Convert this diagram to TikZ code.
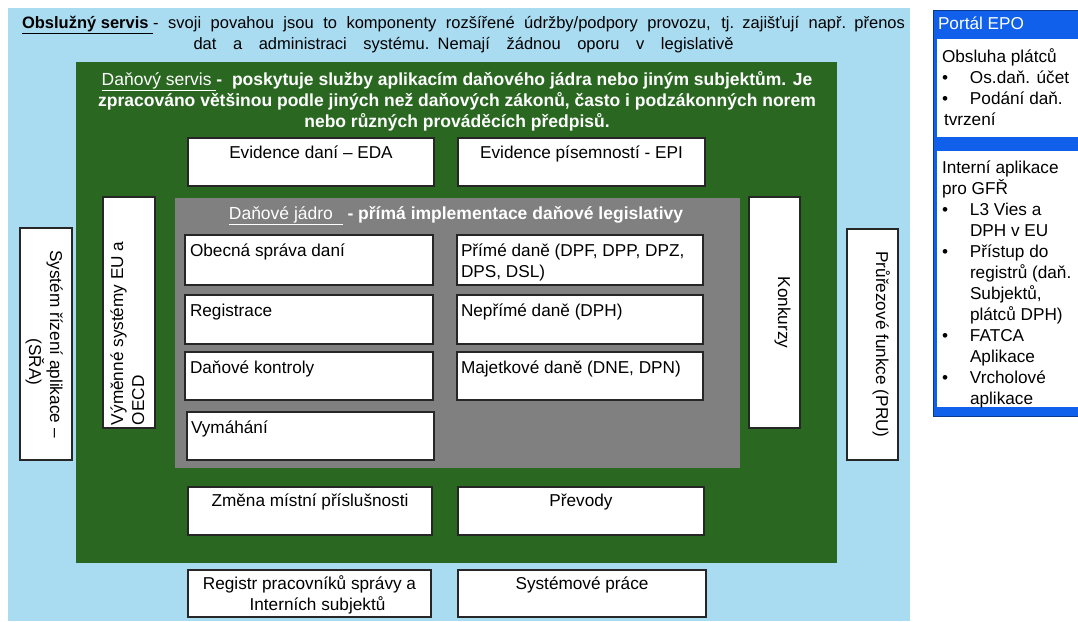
\documentclass[tikz,border=0pt]{standalone}
\usepackage{fontspec}
\setmainfont{Liberation Sans}
\definecolor{outerbg}{RGB}{170,220,241}
\definecolor{servisgreen}{RGB}{42,104,34}
\definecolor{coregray}{RGB}{128,128,128}
\definecolor{portalblue}{RGB}{16,96,235}
\newcommand\epobullet{\makebox[28pt][l]{•}}
\newcommand\epoindent{\makebox[28pt]{}}
\newcommand\widespaces{\spaceskip=0.28em plus 2em\relax}
\begin{document}
\begin{tikzpicture}[x=1pt,y=-1pt,
  every node/.style={inner sep=0pt, outer sep=0pt},
  txt/.style={font=\fontsize{17.2}{21}\selectfont},
  hdr/.style={font=\fontsize{16.5}{21}\selectfont},
  boldhdr/.style={font=\fontsize{17.5}{21}\selectfont\bfseries, text=white},
  wbox/.style={draw=black!85, fill=white, line width=1.1pt, anchor=north west},
  area/.style={anchor=north west},
]
\useasboundingbox (0,0) rectangle (1078,621);
\fill[white] (0,0) rectangle (1078,621);

% --- layers ---
\node[area, fill=outerbg, minimum width=902, minimum height=613] (obs) at (8,8) {};
\node[area, fill=servisgreen, minimum width=761, minimum height=501] (dserv) at (76,62) {};
\node[area, fill=coregray, minimum width=565, minimum height=270] (jadro) at (175,198) {};

% --- layer captions ---
% (with a text width the base anchor sits on the first line)
\node[hdr, anchor=base, text width=883pt, align=center] (obs-t) at (463.5,28)
  {\makebox[883pt][s]{\widespaces\textbf{\underline{Obslužný servis }}- svoji povahou jsou to komponenty rozšířené údržby/podpory provozu, tj. zajišťují např. přenos}\\
   \makebox[540pt][s]{\widespaces dat a administraci systému. Nemají žádnou oporu v legislativě}};
% (without a text width the base anchor sits on the last line)
\node[boldhdr, anchor=base, align=center] (dserv-t) at (457,127)
  {\underline{\mdseries Daňový servis }- \ poskytuje služby aplikacím daňového jádra nebo jiným subjektům. Je\\
   zpracováno většinou podle jiných než daňových zákonů, často i podzákonných norem\\
   nebo různých prováděcích předpisů.};
\node[boldhdr, anchor=base] (jadro-t) at (456,219)
  {\underline{\mdseries Daňové jádro\ \ }\ - přímá implementace daňové legislativy};

% --- boxes of the tax service layer ---
\node[wbox, minimum width=246, minimum height=48] (eda) at (188,138) {};
\node[txt, anchor=base] (eda-t) at ([yshift=-20pt]eda.north) {Evidence daní – EDA};
\node[wbox, minimum width=247, minimum height=48] (epi) at (458,138) {};
\node[txt, anchor=base] (epi-t) at ([yshift=-20pt]epi.north) {Evidence písemností - EPI};

\node[wbox, minimum width=52, minimum height=231] (vseu) at (103,197) {};
\node[txt, rotate=90, anchor=base west, align=left] (vseu-t) at ([xshift=41pt,yshift=3pt]vseu.south west)
  {Výměnné systémy EU a\\OECD};
\node[wbox, minimum width=51, minimum height=231] (konk) at (749,197) {};
\node[txt, rotate=-90, anchor=base] (konk-t) at ([xshift=-22pt]konk.east) {Konkurzy};

\node[wbox, minimum width=244, minimum height=48] (zmp) at (188,487) {};
\node[txt, anchor=base] (zmp-t) at ([yshift=-19pt]zmp.north) {Změna místní příslušnosti};
\node[wbox, minimum width=246, minimum height=48] (prev) at (458,487) {};
\node[txt, anchor=base] (prev-t) at ([yshift=-19pt]prev.north) {Převody};

% --- boxes of the tax core ---
\node[wbox, minimum width=248, minimum height=50] (osd) at (185,235) {};
\node[txt, anchor=base west] (osd-t) at ([xshift=5pt,yshift=-21pt]osd.north west) {Obecná správa daní};
\node[wbox, minimum width=248, minimum height=49] (reg) at (185,295) {};
\node[txt, anchor=base west] (reg-t) at ([xshift=5pt,yshift=-21pt]reg.north west) {Registrace};
\node[wbox, minimum width=248, minimum height=48] (dk) at (185,352) {};
\node[txt, anchor=base west] (dk-t) at ([xshift=5pt,yshift=-21pt]dk.north west) {Daňové kontroly};
\node[wbox, minimum width=247, minimum height=48] (vym) at (187,412) {};
\node[txt, anchor=base west] (vym-t) at ([xshift=4pt,yshift=-21pt]vym.north west) {Vymáhání};

\node[wbox, minimum width=246, minimum height=50] (pd) at (457,235) {};
\node[txt, anchor=base west, align=left] (pd-t) at ([xshift=4pt,yshift=-42pt]pd.north west)
  {Přímé daně (DPF, DPP, DPZ,\\DPS, DSL)};
\node[wbox, minimum width=246, minimum height=49] (nd) at (457,295) {};
\node[txt, anchor=base west] (nd-t) at ([xshift=4pt,yshift=-21pt]nd.north west) {Nepřímé daně (DPH)};
\node[wbox, minimum width=246, minimum height=48] (md) at (457,352) {};
\node[txt, anchor=base west] (md-t) at ([xshift=4pt,yshift=-21pt]md.north west) {Majetkové daně (DNE, DPN)};

% --- boxes of the outer service layer ---
\node[wbox, minimum width=52, minimum height=232] (sra) at (20,228) {};
\node[txt, rotate=-90, anchor=base, align=center] (sra-t) at ([xshift=-43pt]sra.east)
  {Systém řízení aplikace –\\\makebox[36pt]{}(SŘA)};
\node[wbox, minimum width=51, minimum height=231] (pru) at (847,229) {};
\node[txt, rotate=-90, anchor=base] (pru-t) at ([xshift=-22pt]pru.east) {Průřezové funkce (PRU)};

\node[wbox, minimum width=243, minimum height=47] (rps) at (188,570) {};
\node[txt, anchor=base, align=center] (rps-t) at ([yshift=-40pt]rps.north)
  {Registr pracovníků správy a\\\makebox[16pt]{}Interních subjektů};
\node[wbox, minimum width=248, minimum height=47] (sp) at (458,570) {};
\node[txt, anchor=base] (sp-t) at ([yshift=-19pt]sp.north) {Systémové práce};

% --- portal panel ---
\node[area, fill=portalblue, draw=portalblue!60!black, line width=0.8pt, minimum width=145, minimum height=406] (epo) at (933,10) {};
\node[txt, anchor=base west, text=white] (epo-t) at (938,29) {Portál EPO};
\node[area, fill=white, minimum width=141, minimum height=98] (epo1) at (937,39) {};
\node[txt, anchor=base west, align=left] (epo1-t) at (942,125)
  {Obsluha plátců\\
   \epobullet Os.daň. účet\\
   \epobullet Podání daň.\\
   \makebox[2pt]{}tvrzení};
\node[area, fill=white, minimum width=141, minimum height=256] (epo2) at (937,151) {};
\node[txt, anchor=base west, align=left] (epo2-t) at (942,404)
  {Interní aplikace\\
   pro GFŘ\\
   \epobullet L3 Vies a\\
   \epoindent DPH v EU\\
   \epobullet Přístup do\\
   \epoindent registrů (daň.\\
   \epoindent Subjektů,\\
   \epoindent plátců DPH)\\
   \epobullet FATCA\\
   \epoindent Aplikace\\
   \epobullet Vrcholové\\
   \epoindent aplikace};
\end{tikzpicture}
\end{document}
